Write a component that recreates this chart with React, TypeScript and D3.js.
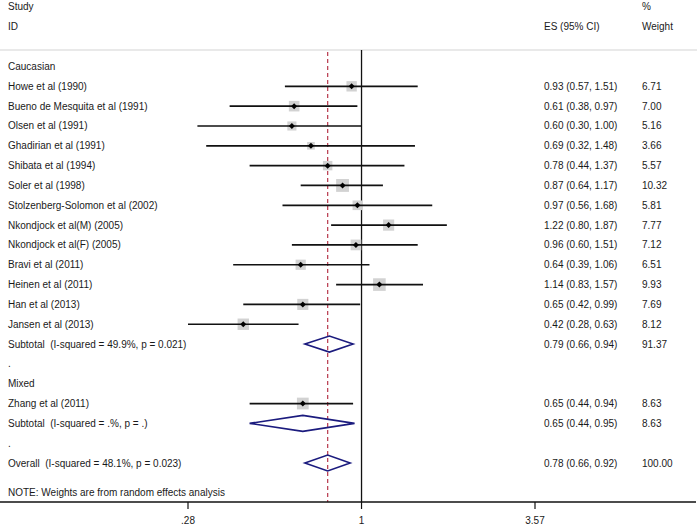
import React from "react";
import * as d3 from "d3";

const studies = [
  "Caucasian",
  "Howe et al (1990)",
  "Bueno de Mesquita et al (1991)",
  "Olsen et al (1991)",
  "Ghadirian et al (1991)",
  "Shibata et al (1994)",
  "Soler et al (1998)",
  "Stolzenberg-Solomon et al (2002)",
  "Nkondjock et al(M) (2005)",
  "Nkondjock et al(F) (2005)",
  "Bravi et al (2011)",
  "Heinen et al (2011)",
  "Han et al (2013)",
  "Jansen et al (2013)",
  "Subtotal  (I-squared = 49.9%, p = 0.021)",
  ".",
  "Mixed",
  "Zhang et al (2011)",
  "Subtotal  (I-squared = .%, p = .)",
  ".",
  "Overall  (I-squared = 48.1%, p = 0.023)",
];
// row type: h = heading, s = study, d = diamond (pooled), b = blank dot
const rowTypes = ["h","s","s","s","s","s","s","s","s","s","s","s","s","s","d","b","h","s","d","b","d"];
const es = [NaN,0.93,0.61,0.60,0.69,0.78,0.87,0.97,1.22,0.96,0.64,1.14,0.65,0.42,0.79,NaN,NaN,0.65,0.65,NaN,0.78];
const lo = [NaN,0.57,0.38,0.30,0.32,0.44,0.64,0.56,0.80,0.60,0.39,0.83,0.42,0.28,0.66,NaN,NaN,0.44,0.44,NaN,0.66];
const hi = [NaN,1.51,0.97,1.00,1.48,1.37,1.17,1.68,1.87,1.51,1.06,1.57,0.99,0.63,0.94,NaN,NaN,0.94,0.95,NaN,0.92];
const weights = [NaN,6.71,7.00,5.16,3.66,5.57,10.32,5.81,7.77,7.12,6.51,9.93,7.69,8.12,91.37,NaN,NaN,8.63,8.63,NaN,100.0];
const overallES = 0.78;
const tickValues = [0.28, 1, 3.57];
const tickLabels = [".28", "1", "3.57"];
const note = "NOTE: Weights are from random effects analysis";

const W = 697, H = 527;
const FONT = "'Liberation Sans', Arial, sans-serif";
const TXT = "#1a1a1a";

export default function App() {
  const x = d3.scaleLog().domain([0.28, 3.57]).range([188, 535]);
  const y = d3.scaleLinear().domain([0, 20]).range([66.5, 463]);
  const axisY = 502;
  const topY = 50;
  const f2 = d3.format(".2f");
  const esX = 544, wX = 642, labX = 8;

  return (
    <svg width={W} height={H} style={{ position: "absolute", left: 0, top: 0, background: "#fff", whiteSpace: "pre" }}
      fontFamily={FONT} fontSize={10} fill={TXT}>
      <rect x={0} y={0} width={W} height={H} fill="#fff" />
      {/* header */}
      <text x={labX} y={6} dy="0.35em">Study</text>
      <text x={labX} y={26} dy="0.35em">ID</text>
      <text x={esX} y={26} dy="0.35em">ES (95% CI)</text>
      <text x={wX} y={6} dy="0.35em">%</text>
      <text x={wX} y={26} dy="0.35em">Weight</text>
      <line x1={0} x2={W} y1={topY} y2={topY} stroke="#d4d4d4" strokeWidth={1.2} />

      {/* reference lines */}
      <line x1={x(1)} x2={x(1)} y1={topY} y2={axisY} stroke="#111" strokeWidth={1.3} />
      <line x1={x(overallES)} x2={x(overallES)} y1={topY + 2} y2={axisY} stroke="#bc4658"
        strokeWidth={1.3} strokeDasharray="4,3" />

      {studies.map((s, i) => {
        const yy = y(i);
        const t = rowTypes[i];
        const els: any[] = [];
        els.push(<text key="l" x={labX} y={yy} dy="0.35em" style={{ whiteSpace: "pre" }}>{s}</text>);
        if (t === "s" || t === "d") {
          els.push(<text key="e" x={esX} y={yy} dy="0.35em">{`${f2(es[i])} (${f2(lo[i])}, ${f2(hi[i])})`}</text>);
          els.push(<text key="w" x={wX} y={yy} dy="0.35em">{f2(weights[i])}</text>);
        }
        if (t === "s") {
          const side = 4 * Math.sqrt(weights[i]);
          const cx = x(es[i]);
          els.push(<rect key="sq" x={cx - side / 2} y={yy - side / 2} width={side} height={side} fill="#d2d2d2" />);
          els.push(<line key="ci" x1={x(lo[i])} x2={x(hi[i])} y1={yy} y2={yy} stroke="#111" strokeWidth={1.7} />);
          els.push(<path key="pt" d={`M${cx},${yy - 3}L${cx + 3},${yy}L${cx},${yy + 3}L${cx - 3},${yy}Z`} fill="#000" />);
        }
        if (t === "d") {
          const h = 8;
          els.push(<path key="dm"
            d={`M${x(lo[i])},${yy}L${x(es[i])},${yy - h}L${x(hi[i])},${yy}L${x(es[i])},${yy + h}Z`}
            fill="none" stroke="#1b1b7e" strokeWidth={1.6} strokeLinejoin="miter" />);
        }
        return <g key={i}>{els}</g>;
      })}

      <text x={labX} y={y(21.5)} dy="0.35em">{note}</text>

      {/* axis */}
      <line x1={0} x2={696} y1={axisY} y2={axisY} stroke="#111" strokeWidth={1.4} />
      {tickValues.map((v, i) => (
        <g key={i}>
          <line x1={x(v)} x2={x(v)} y1={axisY} y2={axisY + 7} stroke="#111" strokeWidth={1.2} />
          <text x={x(v)} y={520} dy="0.35em" textAnchor="middle">{tickLabels[i]}</text>
        </g>
      ))}
    </svg>
  );
}
